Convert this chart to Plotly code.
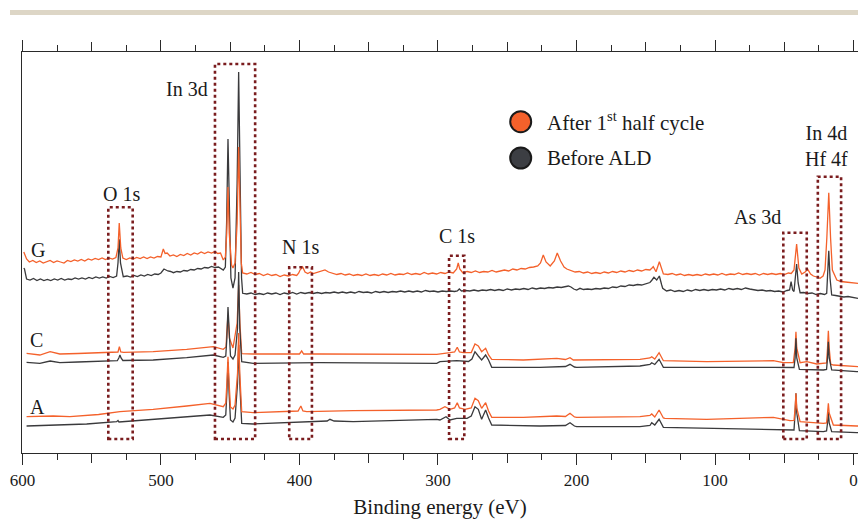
import plotly.graph_objects as go

# ---------------------------------------------------------------------------
# Binding-energy axis (eV, decreasing to the right)
# ---------------------------------------------------------------------------
label_ticks = [0, 100, 200, 300, 400, 500, 600]
label_text = ["0", "100", "200", "300", "400", "500", "600"]
mid_ticks = [50, 150, 250, 350, 450, 550]

# ---------------------------------------------------------------------------
# XPS survey spectra, stacked with vertical offsets: (binding energy eV, intensity a.u.)
# ---------------------------------------------------------------------------
# Sample G, after 1st half cycle
g_after = [
    (599, 201), (597, 194), (595, 191), (592.5, 192.5), (590, 190.5), (587.5, 192), (585, 190),
    (582.5, 191.5), (580, 192.5), (577.5, 190.5), (575, 192), (572.5, 191), (570, 190),
    (567.5, 192.5), (565, 191.5), (562.5, 193), (560, 192), (557.5, 193.5), (555, 192),
    (552.5, 194), (550, 193), (547.5, 194.5), (545, 193.5), (542.5, 195), (540, 193.5),
    (537.5, 195), (535, 194), (532.5, 195.5), (531, 205), (530.1, 230), (529, 205), (527.5, 195),
    (525, 193.5), (522.5, 195), (520, 194), (517.5, 195.5), (515, 194.5), (512.5, 196),
    (510, 194.5), (507.5, 196), (505, 195), (502.5, 196.5), (500, 196), (498.3, 204),
    (497, 199.5), (495.5, 200), (493.5, 197), (491, 198), (488.5, 196.5), (486, 198.5),
    (483.5, 197.5), (481, 199.5), (478.5, 198), (476, 200), (473.5, 199), (471, 201),
    (468.5, 199.5), (466, 201), (463.5, 200), (461, 201.5), (459, 199.5), (457, 200),
    (455, 193), (453.5, 196), (452.5, 220), (451.6, 266), (450.7, 220), (449, 188), (448, 185),
    (446.5, 190), (445, 230), (443.9, 306), (443, 230), (442, 190), (441, 180),
    (438, 179), (435, 180.5), (432, 178.5), (429, 179.5), (426, 177.5), (423, 179), (420, 177.5),
    (417, 178.5), (414, 176.5), (411, 178), (408, 177), (405, 178.5), (402, 177.5), (400.5, 180),
    (399.6, 183), (397.7, 186), (396, 181), (394, 179.5), (392, 181), (390, 179.5), (387, 180.5),
    (384, 181.5), (381.6, 183), (379, 181), (376, 180), (373, 178.5), (370, 179.5), (367, 178),
    (364, 179), (361, 177.5), (358, 178.5), (355, 177.5), (352, 179), (349, 177.5), (346, 178.5),
    (343, 177.5), (340, 179), (337, 178), (334, 179.5), (331, 178), (328, 179), (325, 178.5),
    (322, 180), (319, 178.5), (316, 179.5), (313, 178.5), (310, 180.5), (307, 179), (304, 180),
    (301, 179), (298, 180.5), (295, 179.5), (292, 181), (289, 180), (286.5, 184), (285.4, 190),
    (284.3, 184), (282, 180), (279, 181.5), (276, 180.5), (273, 182), (270, 180.5), (267, 181.5),
    (264, 181), (261, 182.5), (258, 181), (255, 182), (252, 183), (249, 182), (246, 184),
    (243, 183), (240, 184.5), (237, 184), (234, 185.5), (231, 186), (228, 187), (226, 190),
    (224, 198), (222, 191), (219, 187), (216, 192), (213.9, 200), (211.5, 192), (209, 186),
    (207, 184), (204, 182.5), (201, 181), (198, 181.5), (195, 180), (192, 181), (189, 179.5),
    (186, 180.5), (183, 179.5), (180, 181), (177, 180), (174, 181.5), (171, 180.5), (168, 182),
    (165, 181), (162, 182.5), (159, 181.5), (156, 183), (153, 182), (150, 183.5), (147, 183),
    (145.5, 185), (144.6, 186.3), (142.6, 181.3), (140.2, 191.3), (137.3, 179), (134, 178.5),
    (131, 179.5), (128, 178), (125, 179), (122, 177.5), (119, 178.5), (116, 177.5), (113, 178.5),
    (110, 177.5), (107, 179), (104, 178), (101, 179), (98, 178), (95, 179.5), (92, 178),
    (89, 179), (86, 178.5), (83, 180), (80, 178.5), (77, 179.5), (74, 178.5), (71, 179.5),
    (68, 178), (65, 179.5), (62, 178.5), (59, 179.5), (56, 178.5), (53, 179.5), (50, 178.5),
    (47, 180), (45, 179.5), (43, 183), (41.1, 209), (39.5, 185), (37.4, 179), (35, 181),
    (33.1, 183.7), (31, 179), (29, 177), (26.5, 176), (24.2, 174.7), (22, 177), (20.6, 183),
    (19.3, 215), (17.9, 260.3), (16.6, 215), (15.3, 183), (12.1, 173), (9, 171.5), (6, 171),
    (3, 170.5), (0, 170), (-3.2, 169.7),
]

# Sample G, before ALD
g_before = [
    (599, 185), (598.5, 184), (597, 174), (594.5, 173), (592, 174.5), (589.5, 172.5), (587, 174),
    (584.5, 172.5), (582, 173.5), (579.5, 172.5), (577, 174), (574.5, 173), (572, 174.5),
    (569.5, 173), (567, 174), (564.5, 173.5), (562, 175), (559.5, 174), (557, 175), (554.5, 174),
    (552, 175.5), (549.5, 174.5), (547, 176), (544.5, 175), (542, 176), (539.5, 175),
    (537, 176.5), (534.5, 175.5), (532, 177), (531, 190), (530.1, 213.7), (529.2, 190),
    (527.2, 176.3), (524.5, 177), (522, 176), (519.5, 177.5), (517, 176.5), (514.5, 178),
    (512, 177), (509.5, 178.5), (507, 177.5), (504.5, 179), (502, 178.5), (500, 180),
    (497.8, 184), (495, 182), (493, 181.5), (491, 180.3), (488.5, 181.5), (486, 181),
    (483.5, 182.5), (481, 182), (478.5, 183.5), (476, 183), (473.5, 184.5), (471, 184),
    (468.5, 185.5), (466, 185), (463.5, 186.5), (461, 185.5), (458.5, 186), (457, 185),
    (455, 183), (453.5, 186), (452.6, 230), (451.6, 314), (450.6, 230), (449.5, 175), (448, 165),
    (446.5, 175), (445, 270), (443.9, 381), (442.8, 270), (441.8, 175), (441, 159.7),
    (438, 159), (435, 160), (432, 158.5), (429, 159.5), (426, 158.5), (423, 160), (420, 159),
    (417, 160), (414, 158.5), (411, 160), (408, 159), (405, 160.5), (402, 159), (399, 160.5),
    (396, 159.5), (393, 160.5), (390, 159.5), (387, 160.5), (384, 159.5), (381, 160.5),
    (378, 160), (375, 161), (372, 160), (369, 161), (366, 160), (363, 161), (360, 160),
    (357, 161.5), (354, 160.5), (351, 161), (348, 160), (345, 161.5), (342, 160.5), (339, 161.5),
    (336, 160.5), (333, 161.5), (330, 161), (327, 162), (324, 161), (321, 162), (318, 161),
    (315, 162), (312, 161), (309, 162.5), (306, 161.5), (303, 162), (300, 161), (297, 162),
    (294, 161.5), (291, 162), (288, 161.5), (286, 162), (284.6, 164), (283, 162), (280, 162.5),
    (277, 162), (274, 163), (271, 162), (268, 163), (265, 162.5), (262, 163.5), (259, 162.5),
    (256, 163.5), (253, 162.5), (250, 164), (247, 163), (244, 164), (241, 163.5), (238, 164.5),
    (235, 163.5), (232, 165), (229, 164), (226, 165), (223, 164.5), (220, 165.5), (217, 165),
    (214, 166), (211, 165.5), (208, 166), (205.9, 167), (204, 166), (202, 164), (199.9, 163),
    (197.5, 164.7), (195, 163.5), (192, 164), (189, 163.5), (186, 164.5), (183, 164),
    (180, 165), (177, 164.5), (174, 166), (171, 165.5), (168, 167), (165, 166.5), (162, 168),
    (159, 167.5), (156, 168.5), (153, 168), (150, 169.5), (147, 170.5), (145.5, 173),
    (144.1, 175.7), (142.1, 173), (140.2, 177), (138.5, 168), (137.8, 164.7), (135, 162),
    (132, 163), (129, 161.5), (126, 162.5), (123, 161.5), (120, 163), (117, 162), (114, 163.5),
    (111, 162.5), (108, 163.5), (105, 162.5), (102, 163.5), (99, 163), (96, 164), (93, 163),
    (90, 164.5), (87, 163.5), (84, 164.5), (81, 163.5), (78, 165), (75, 164), (72, 163.5),
    (69, 162.5), (66, 163), (63, 162), (60, 162.5), (57, 161.5), (54, 162), (51, 161),
    (48, 162.5), (46.2, 163), (45.1, 171.3), (44, 163), (43, 161.5), (42.3, 170), (41.1, 189),
    (40, 170), (38.6, 160.3), (36, 160.5), (33, 159.5), (30, 160), (27, 158.5), (24, 159.5),
    (21, 158.5), (19.4, 159.7), (18.8, 175), (17.9, 202.3), (17, 175), (15.8, 158), (13, 157.5),
    (10, 157), (7, 156), (4, 156.5), (1, 155.5), (-3.2, 154.7),
]

# Sample C, after 1st half cycle
c_after = [
    (597, 99.7), (587.4, 98), (580, 101.3), (573, 99), (560, 99.5), (539, 100.3), (531, 101),
    (530, 106.3), (529, 101), (527, 100.7), (505.6, 101.3), (481.4, 103.7), (462.2, 106.3),
    (455, 103.7), (453, 106), (452.5, 120), (451.6, 138), (450.6, 115), (448, 105), (445, 130),
    (443.9, 168), (443, 130), (441.7, 99.3), (433.4, 99), (409.2, 98.7), (400, 99), (398.4, 102),
    (397, 99), (385.2, 99), (361.2, 99), (337, 98.7), (300.9, 98.7), (291.3, 100.3), (288, 101),
    (286.1, 105.7), (284.5, 101), (281.7, 100.3), (276, 100.5), (273.3, 109), (270.9, 107),
    (268.5, 101.3), (265.6, 104.7), (263.5, 98), (261.2, 93.7), (238.4, 93), (214.3, 94.7),
    (208, 93.5), (204.7, 95.3), (202.3, 93), (178.2, 93), (154.2, 93.7), (147, 95), (145.7, 96.3),
    (143.5, 94), (140.4, 100.3), (137.3, 92.3), (106, 91.3), (57.9, 92.3), (50.7, 90.3),
    (43.5, 90.5), (42.2, 105), (41.6, 121.3), (41, 105), (38.6, 90.3), (33.8, 91.3), (26.6, 89),
    (19.5, 90), (18.8, 105), (18.2, 122.3), (17.6, 105), (16.5, 89), (14.6, 88), (-2.3, 86.3),
    (-3.2, 86.3),
]

# Sample C, before ALD
c_before = [
    (597, 90.7), (587.4, 89.7), (580, 92), (573, 90.3), (560, 91), (534.4, 92), (531.5, 92.3),
    (530.4, 95), (529.6, 98), (528.8, 95), (527.5, 92.5), (505.6, 93), (481.4, 95.3),
    (462.2, 98), (455, 95.7), (453.2, 97), (452.4, 115), (451.6, 146), (450.8, 115), (449.8, 97),
    (448, 94), (446.5, 98), (444.7, 125), (443.9, 181), (443.1, 125), (442.3, 95), (441.7, 91.3),
    (433.4, 89.7), (385.2, 90.3), (300.9, 89.7), (298.6, 91.3), (286.5, 92.3), (278, 91.5),
    (275.5, 94), (273.3, 101.3), (270.9, 97), (268.5, 93), (265.6, 98), (263.5, 93),
    (261.2, 85.7), (226.4, 85.7), (208, 86.5), (204.7, 88.7), (201.5, 86), (199.9, 85.7),
    (154.2, 87), (147, 88.5), (145.7, 90.3), (143.5, 88.5), (140.4, 93.7), (137.3, 85.7),
    (57.9, 85.7), (45.9, 85.7), (43, 85.5), (42.2, 95), (41.6, 114.7), (41, 95), (39.1, 83.7),
    (21.8, 83), (19.5, 83.5), (18.8, 95), (18.2, 111.3), (17.6, 95), (15.8, 83), (-2.3, 81.3),
    (-3.2, 81.3),
]

# Sample A, after 1st half cycle
a_after = [
    (597, 36.3), (577.8, 37), (565.7, 36.3), (545, 38.5), (529.6, 41.3), (505.6, 43.7),
    (481.4, 47), (464.6, 49.7), (455, 46.3), (453.2, 50), (452.4, 70), (451.6, 96.3), (450.8, 70),
    (449.8, 46), (448, 44), (446.5, 48), (444.7, 80), (443.9, 120), (443.1, 80), (442.3, 45),
    (441.7, 41.3), (433.4, 40.3), (409.2, 41.3), (401, 42), (399, 47), (397.5, 42), (394.8, 41.3),
    (361.2, 42.3), (300.9, 43), (298.6, 43.7), (295, 46.3), (291.3, 43.7), (288, 45),
    (286.1, 50.3), (284.5, 45), (280.5, 43.7), (276, 45), (273.3, 54.7), (270.9, 52.3),
    (268.5, 44.7), (265.6, 50.3), (263.5, 42), (261.2, 35.7), (238.4, 35.7), (214.3, 37),
    (208, 36.5), (204.7, 39.7), (201.5, 36), (199.9, 35.7), (154.2, 36.3), (147, 37.5),
    (145.7, 39), (143.5, 36), (140.4, 43), (137.3, 35), (136.1, 34.7), (106, 33.7), (57.9, 35.7),
    (45.9, 32.3), (43, 32.5), (42.2, 45), (41.6, 59.7), (41, 45), (38.6, 31.3), (21.8, 29.7),
    (19.5, 30), (18.8, 40), (18.2, 49.7), (17.6, 40), (14.6, 28), (-2.3, 27), (-3.2, 27),
]

# Sample A, before ALD
a_before = [
    (597, 27), (553.6, 29), (532, 31.3), (531, 32.5), (530.3, 31), (505.6, 33.7), (481.4, 35.7),
    (464.6, 38), (455, 35.7), (453.2, 38), (452.4, 60), (451.6, 91), (450.8, 60), (449.8, 33),
    (448, 31), (446.5, 35), (444.7, 70), (443.9, 108), (443.1, 70), (442.3, 33), (441.7, 29.7),
    (433.4, 29), (385.2, 31.3), (380, 32), (378, 33.7), (375, 32), (361.2, 31.3), (300.9, 33.7),
    (298.6, 33), (294.2, 36.3), (291.3, 33), (286.5, 34.7), (279, 34.7), (276, 37),
    (273.3, 46.3), (270.9, 43.7), (268.5, 33.7), (265.6, 43), (263.5, 35), (261.2, 28),
    (226.4, 27), (208, 27.5), (204.7, 30.3), (201.5, 27), (199.9, 26.3), (154.2, 26.3),
    (147, 27.5), (145.7, 30.3), (143.5, 28), (140.4, 33.7), (137.3, 25.7), (57.9, 23.7),
    (45.9, 23), (43, 23), (42.2, 40), (41.6, 59.7), (41, 40), (39.1, 22.3), (21.8, 21.3),
    (19.5, 22), (18.8, 30), (18.2, 41.3), (17.6, 30), (15.8, 21.3), (-2.3, 20.3), (-3.2, 20.3),
]

# Sample labels next to each pair of spectra
sample_names = ["G", "C", "A"]
sample_label_ev = [589, 590, 589]
sample_label_int = [203, 113, 46]

# Core-level regions marked with dotted boxes
region_names = ["O 1s", "In 3d", "N 1s", "C 1s", "As 3d", "In 4d<br>Hf 4f"]
region_hi_ev = [538, 461, 407.4, 292, 50.7, 25.8]
region_lo_ev = [520.4, 432, 391, 281, 33.8, 9]
region_top = [245.7, 389, 185.7, 197.3, 220.3, 276.3]
region_bottom = 14
region_label_ev = [528.2, 480.9, 398.9, 286.5, 69.7, 19.5]
region_label_int = [259, 364, 205.7, 217, 236.3, 306.7]

series_names = ["After 1<sup>st</sup> half cycle", "Before ALD"]

ORANGE = "#f4612b"
DARK = "#3a3a3c"
BOX = "#7a1c1e"
INK = "#1a1a1a"
AXIS = "#2a2a2a"
FONT = "Liberation Serif"
X_RANGE = [600.3, -3.2]

fig = go.Figure()

# drawing order: G before/after, C after/before, A before/after
spectra = [
    (g_before, DARK),
    (g_after, ORANGE),
    (c_after, ORANGE),
    (c_before, DARK),
    (a_before, DARK),
    (a_after, ORANGE),
]
for pts, col in spectra:
    ev, inten = zip(*pts)
    fig.add_trace(go.Scatter(x=list(ev), y=list(inten), mode="lines",
                             line=dict(color=col, width=1.3),
                             showlegend=False, hoverinfo="skip"))

# empty traces so the overlaid tick-only axes get drawn
for ax in ["x2", "x3", "x4"]:
    fig.add_trace(go.Scatter(x=[], y=[], xaxis=ax, yaxis="y", mode="lines",
                             showlegend=False, hoverinfo="skip"))

shapes = []
annotations = []
for name, hi, lo, top, lx, ly in zip(region_names, region_hi_ev, region_lo_ev, region_top,
                                     region_label_ev, region_label_int):
    shapes.append(dict(type="rect", xref="x", yref="y", x0=hi, x1=lo, y0=region_bottom, y1=top,
                       line=dict(color=BOX, width=2.6, dash="3px,3px")))
    annotations.append(dict(x=lx, y=ly, xref="x", yref="y", text=name, showarrow=False,
                            font=dict(family=FONT, size=20, color=INK),
                            xanchor="center", yanchor="middle"))

for name, lx, ly in zip(sample_names, sample_label_ev, sample_label_int):
    annotations.append(dict(x=lx, y=ly, xref="x", yref="y", text=name, showarrow=False,
                            font=dict(family=FONT, size=20, color=INK),
                            xanchor="center", yanchor="middle"))

# legend: filled circles with labels
W, H = 858, 520
PL, PT, PB = 22, 52, 67
PW, PH = W - PL, H - PT - PB
legend_fill = [ORANGE, "#3c3e43"]
legend_cy = [121.7, 158]
for name, fill, cy in zip(series_names, legend_fill, legend_cy):
    cx, r = 520.7, 10.5
    shapes.append(dict(type="circle", xref="paper", yref="paper",
                       x0=(cx - r - PL) / PW, x1=(cx + r - PL) / PW,
                       y0=(H - PB - cy - r) / PH, y1=(H - PB - cy + r) / PH,
                       fillcolor=fill, line=dict(color=INK, width=2)))
    annotations.append(dict(x=(545 - PL) / PW, y=(H - PB - cy) / PH, xref="paper", yref="paper",
                            text=name, showarrow=False, xanchor="left", yanchor="middle",
                            font=dict(family=FONT, size=21, color=INK)))

# thin beige rule across the top of the page
shapes.append(dict(type="rect", xref="paper", yref="paper",
                   x0=(10 - PL) / PW, x1=1.0, y0=(H - PB - 10) / PH, y1=(H - PB - 15) / PH,
                   fillcolor="#ddd6c6", line=dict(width=0), layer="below"))

fig.update_layout(
    width=W, height=H,
    margin=dict(l=PL, r=0, t=PT, b=PB),
    paper_bgcolor="white", plot_bgcolor="white",
    shapes=shapes, annotations=annotations,
    showlegend=False,
    font=dict(family=FONT, color=INK),
)

minor_ticks = dict(dtick=25, tick0=0, ticks="outside", ticklen=6, tickwidth=1.2,
                   tickcolor=AXIS, showgrid=False)
common = dict(range=X_RANGE, showgrid=False, zeroline=False, tickwidth=1.3, tickcolor=AXIS)

# bottom axis with labels, top axis as a mirror; extra overlays add the 50 eV ticks
fig.update_layout(
    xaxis=dict(**common, tickvals=label_ticks, ticktext=label_text, ticks="outside", ticklen=11,
               showline=True, linecolor=AXIS, linewidth=1.3, minor=minor_ticks,
               tickfont=dict(family=FONT, size=17, color=INK),
               title=dict(text="Binding energy (eV)",
                          font=dict(family=FONT, size=21, color=INK), standoff=10)),
    xaxis2=dict(**common, overlaying="x", anchor="y", side="top", tickvals=label_ticks,
                ticks="outside", ticklen=11, showticklabels=False,
                showline=True, linecolor=AXIS, linewidth=1.3, minor=minor_ticks),
    xaxis3=dict(**common, overlaying="x", anchor="y", side="bottom", tickvals=mid_ticks,
                ticks="outside", ticklen=9, showticklabels=False, showline=False),
    xaxis4=dict(**common, overlaying="x", anchor="y", side="top", tickvals=mid_ticks,
                ticks="outside", ticklen=9, showticklabels=False, showline=False),
    yaxis=dict(range=[0, 401], showline=True, linecolor=AXIS, linewidth=1.3,
               showticklabels=False, ticks="", showgrid=False, zeroline=False),
)

fig.write_html("out.html")
